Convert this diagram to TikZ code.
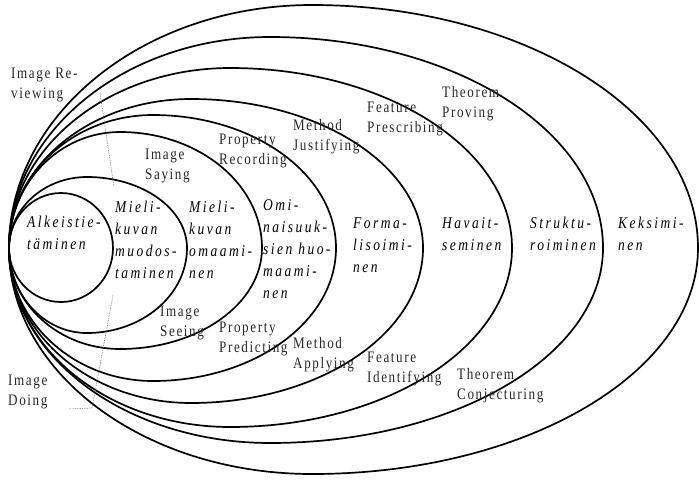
\documentclass[tikz,border=0pt]{standalone}
\usepackage{fontspec}
\newfontfamily\notefont[FakeStretch=0.82,LetterSpace=10]{Liberation Serif}
\newfontfamily\stagefont[FakeStretch=0.82,LetterSpace=15]{Liberation Serif}

% Closed egg-shaped ring through the common left point (9,248):
% #1 = right x, #2 = top y, #3 = bottom y, #4 = x of top and bottom
\newcommand\drawegg[4]{%
  \pgfmathsetmacro\eggR{#1}\pgfmathsetmacro\eggT{#2}%
  \pgfmathsetmacro\eggB{#3}\pgfmathsetmacro\eggX{#4}%
  \pgfmathsetmacro\eggcl{\eggX-0.5523*(\eggX-9)}%
  \pgfmathsetmacro\eggcr{\eggX+0.5523*(\eggR-\eggX)}%
  \pgfmathsetmacro\eggct{248-0.5523*(248-\eggT)}%
  \pgfmathsetmacro\eggcb{248+0.5523*(\eggB-248)}%
  \draw[ring] (9,248) .. controls (9,\eggct) and (\eggcl,\eggT) .. (\eggX,\eggT)
    .. controls (\eggcr,\eggT) and (\eggR,\eggct) .. (\eggR,248)
    .. controls (\eggR,\eggcb) and (\eggcr,\eggB) .. (\eggX,\eggB)
    .. controls (\eggcl,\eggB) and (9,\eggcb) .. cycle;}

\begin{document}
\begin{tikzpicture}[x=1pt,y=-1pt,
  ring/.style={line width=1.7pt, black},
  note/.style={font=\notefont\fontsize{16}{20}\selectfont, align=left,
    anchor=north west, inner sep=0pt, text=black!85},
  stage/.style={font=\stagefont\itshape\fontsize{16.5}{22}\selectfont, align=left,
    anchor=north west, inner sep=0pt},
  leader/.style={black!60, line width=0.6pt, dash pattern=on 0.7pt off 1pt}]
\useasboundingbox (0,0) rectangle (699,480);

% nested levels, innermost first
\drawegg{113}{193}{302}{61}
\drawegg{187}{177}{333}{87}
\drawegg{262}{132}{349}{120}
\drawegg{336}{115}{381}{153}
\drawegg{423}{99}{403}{191}
\drawegg{512}{68}{427}{230}
\drawegg{603}{37}{443}{270}
\drawegg{698}{5}{474}{312}

% level names
\node[stage] (alk)  at (27,216)  {Alkeistie-\\täminen};
\node[stage] (mkm)  at (115,201) {Mieli-\\kuvan\\muodos-\\taminen};
\node[stage] (mko)  at (189,201) {Mieli-\\kuvan\\omaami-\\nen};
\node[stage] (omi)  at (263,199) {Omi-\\naisuuk-\\sien huo-\\maami-\\nen};
\node[stage] (form) at (353,217) {Forma-\\lisoimi-\\nen};
\node[stage] (hav)  at (442,217) {Havait-\\seminen};
\node[stage] (str)  at (530,217) {Struktu-\\roiminen};
\node[stage] (kek)  at (618,217) {Keksimi-\\nen};

% activity labels
\node[note] (review) at (11,68)   {Image Re-\\viewing};
\node[note] (doing)  at (8,375)   {Image\\Doing};
\node[note] (saying) at (145,149) {Image\\Saying};
\node[note] (seeing) at (160,306) {Image\\Seeing};
\node[note] (prec)   at (219,134) {Property\\Recording};
\node[note] (ppred)  at (219,322) {Property\\Predicting};
\node[note] (mjust)  at (293,119) {Method\\Justifying};
\node[note] (mappl)  at (293,337) {Method\\Applying};
\node[note] (fpres)  at (367,102) {Feature\\Prescribing};
\node[note] (fiden)  at (367,352) {Feature\\Identifying};
\node[note] (tprov)  at (442,86)  {Theorem\\Proving};
\node[note] (tconj)  at (457,368) {Theorem\\Conjecturing};

% dotted leaders
\coordinate (r1) at (100,93);
\coordinate (r2) at (114,187);
\coordinate (d1) at (113,295);
\coordinate (d2) at (92,408);
\coordinate (d3) at (69,409);
\draw[leader] (r1) -- (r2);
\draw[leader] (d1) -- (d2) -- (d3);
\end{tikzpicture}
\end{document}
